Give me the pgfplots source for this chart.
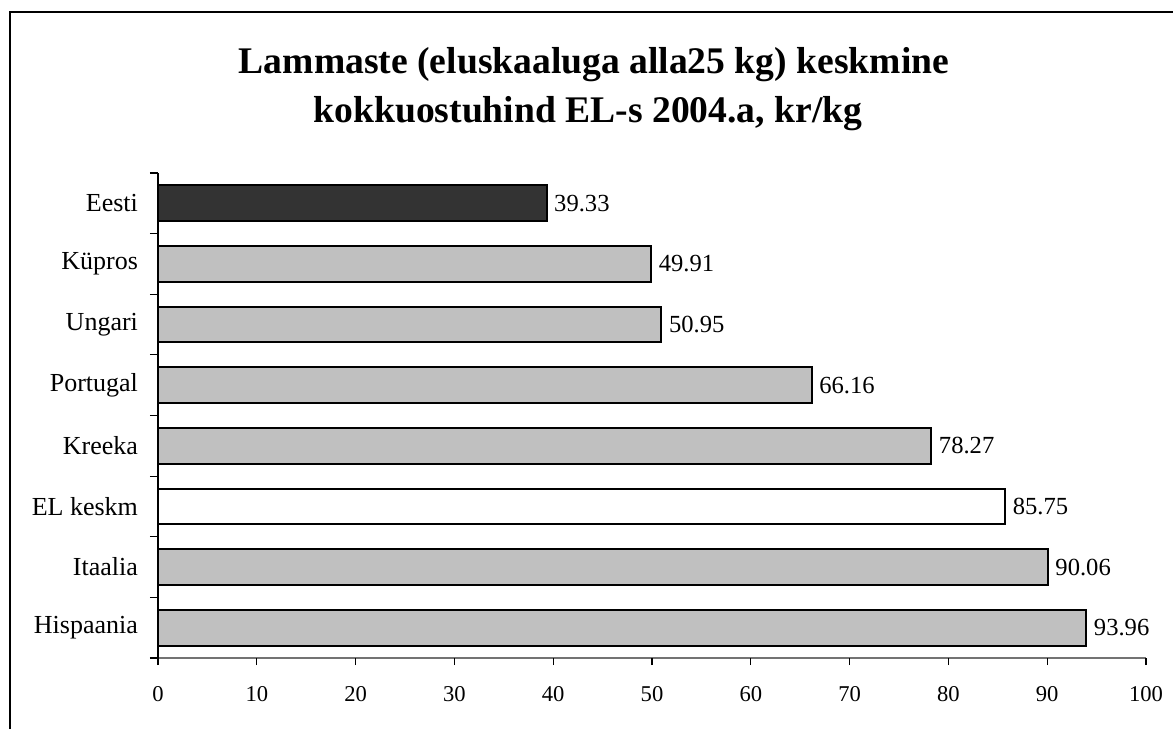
\documentclass[border=0pt]{standalone}
\usepackage{pgfplots}
\pgfplotsset{compat=1.18}
\usepackage{fontspec}
\setmainfont{Liberation Serif}
\definecolor{barg}{HTML}{C0C0C0}
\definecolor{bard}{HTML}{333333}
\begin{document}
\begin{tikzpicture}
\useasboundingbox (0,0) rectangle (586.5pt,-364.5pt);
\draw[line width=0.6pt] (5pt,-364.5pt) -- (5pt,-6pt) -- (586.5pt,-6pt);
\node[anchor=base,font=\fontsize{18.8}{20}\selectfont\bfseries] at (297pt,-36.5pt) {Lammaste (eluskaaluga alla25 kg) keskmine};
\node[anchor=base,font=\fontsize{18.8}{20}\selectfont\bfseries] at (294pt,-61pt) {kokkuostuhind EL-s 2004.a, kr/kg};
\begin{axis}[
  at={(79pt,-329pt)}, anchor=south west,
  scale only axis, width=494pt, height=242.5pt,
  xmin=0, xmax=100, ymin=-0.5, ymax=7.5, y dir=reverse,
  axis x line*=bottom, axis y line*=left,
  x axis line style={draw=gray!90!black,line width=0.8pt,-},
  y axis line style={draw=black,line width=0.6pt,-},
  xtick={0,10,...,100},
  ytick={0,...,7},
  yticklabels={Eesti,Küpros,Ungari,Portugal,Kreeka,EL keskm,Itaalia,Hispaania},
  extra y ticks={-0.5,0.5,...,7.5}, extra y tick labels={},
  extra y tick style={major tick length=4pt, tick style={draw=black,line width=0.6pt}},
  extra x ticks={0,10,...,100}, extra x tick labels={},
  extra x tick style={major tick length=3.5pt, tick style={draw=black,line width=0.6pt}},
  major tick length=0pt,
  xticklabel style={font=\fontsize{11.3}{13}\selectfont, yshift=-10.5pt},
  yticklabel style={font=\fontsize{13}{15}\selectfont, xshift=-6.5pt},
  /pgf/number format/assume math mode=true,
  tick align=outside,
  xbar, bar width=0.59, bar shift=0pt,
  nodes near coords,
  nodes near coords style={font=\fontsize{12.3}{14}\selectfont, /pgf/number format/.cd, fixed, fixed zerofill, precision=2, assume math mode=true},
  clip=false,
]
\addplot[fill=bard, draw=black, line width=1pt] coordinates {(39.33,0)};
\addplot[fill=barg, draw=black, line width=1pt] coordinates {(49.91,1) (50.95,2) (66.16,3) (78.27,4) (90.06,6) (93.96,7)};
\addplot[fill=white, draw=black, line width=1pt] coordinates {(85.75,5)};
\end{axis}
\end{tikzpicture}
\end{document}
